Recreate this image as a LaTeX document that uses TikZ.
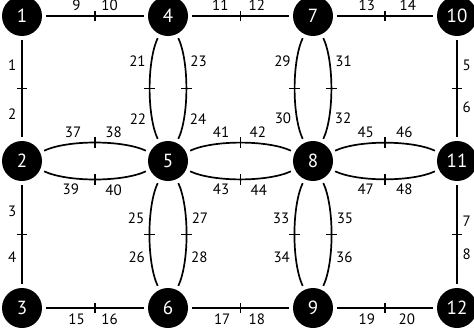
\documentclass[tikz,border=0pt]{standalone}
\usepackage{fontspec}
\setmainfont{PT Sans}
\usetikzlibrary{decorations.markings}

\begin{document}
\begin{tikzpicture}[x=0.5pt,y=0.5pt,
    vtx/.style={circle,fill=black,text=white,minimum size=20pt,inner sep=0pt,
                outer sep=2.2pt,font=\fontsize{9.5}{10}\selectfont},
    link/.style={line width=0.7pt,
                 decoration={markings,mark=at position 0.5 with
                   {\draw[line width=0.7pt] (0pt,-2.6pt) -- (0pt,2.6pt);}},
                 postaction={decorate}},
    lbl/.style={font=\fontsize{7.5}{8}\selectfont,inner sep=2.5pt},
    arcl/.style={link,line width=0.85pt,bend left=25,looseness=0.65},
    arcr/.style={link,line width=0.85pt,bend right=25,looseness=0.65}]
  \useasboundingbox (0,0) rectangle (474,333);
  % vertices
  \node[vtx] (n1)  at (22,317)  {1};
  \node[vtx] (n4)  at (168,317) {4};
  \node[vtx] (n7)  at (313,317) {7};
  \node[vtx] (n10) at (457,317) {10};
  \node[vtx] (n2)  at (22,172)  {2};
  \node[vtx] (n5)  at (168,172) {5};
  \node[vtx] (n8)  at (313,172) {8};
  \node[vtx] (n11) at (457,172) {11};
  \node[vtx] (n3)  at (22,25)   {3};
  \node[vtx] (n6)  at (168,25)  {6};
  \node[vtx] (n9)  at (313,25)  {9};
  \node[vtx] (n12) at (457,25)  {12};
  % outer straight edges
  \draw[link] (n1) -- node[lbl,above,pos=.31] (l9) {9} node[lbl,above,pos=.65] (l10) {10} (n4);
  \draw[link] (n4) -- node[lbl,above,pos=.29] (l11) {11} node[lbl,above,pos=.67] (l12) {12} (n7);
  \draw[link] (n7) -- node[lbl,above,pos=.31] (l13) {13} node[lbl,above,pos=.74] (l14) {14} (n10);
  \draw[link] (n3) -- node[lbl,below,pos=.31] (l15) {15} node[lbl,below,pos=.65] (l16) {16} (n6);
  \draw[link] (n6) -- node[lbl,below,pos=.31] (l17) {17} node[lbl,below,pos=.67] (l18) {18} (n9);
  \draw[link] (n9) -- node[lbl,below,pos=.31] (l19) {19} node[lbl,below,pos=.73] (l20) {20} (n12);
  \draw[link] (n1) -- node[lbl,left,pos=.26] (l1) {1} node[lbl,left,pos=.77] (l2) {2} (n2);
  \draw[link] (n2) -- node[lbl,left,pos=.26] (l3) {3} node[lbl,left,pos=.73] (l4) {4} (n3);
  \draw[link] (n10) -- node[lbl,right,pos=.26] (l5) {5} node[lbl,right,pos=.70] (l6) {6} (n11);
  \draw[link] (n11) -- node[lbl,right,pos=.36] (l7) {7} node[lbl,right,pos=.70] (l8) {8} (n12);
  % double vertical arcs
  \draw[arcr] (n4) to node[lbl,left,pos=.26] (l21) {21} node[lbl,left,pos=.77] (l22) {22} (n5);
  \draw[arcl] (n4) to node[lbl,right,pos=.26] (l23) {23} node[lbl,right,pos=.77] (l24) {24} (n5);
  \draw[arcr] (n5) to node[lbl,left,pos=.36] (l25) {25} node[lbl,left,pos=.70] (l26) {26} (n6);
  \draw[arcl] (n5) to node[lbl,right,pos=.36] (l27) {27} node[lbl,right,pos=.70] (l28) {28} (n6);
  \draw[arcr] (n7) to node[lbl,left,pos=.26] (l29) {29} node[lbl,left,pos=.77] (l30) {30} (n8);
  \draw[arcl] (n7) to node[lbl,right,pos=.26] (l31) {31} node[lbl,right,pos=.77] (l32) {32} (n8);
  \draw[arcr] (n8) to node[lbl,left,pos=.36] (l33) {33} node[lbl,left,pos=.70] (l34) {34} (n9);
  \draw[arcl] (n8) to node[lbl,right,pos=.36] (l35) {35} node[lbl,right,pos=.70] (l36) {36} (n9);
  % double horizontal arcs
  \draw[arcl] (n2) to node[lbl,above,pos=.31] (l37) {37} node[lbl,above,pos=.66] (l38) {38} (n5);
  \draw[arcr] (n2) to node[lbl,below,pos=.29] (l39) {39} node[lbl,below,pos=.66] (l40) {40} (n5);
  \draw[arcl] (n5) to node[lbl,above,pos=.33] (l41) {41} node[lbl,above,pos=.65] (l42) {42} (n8);
  \draw[arcr] (n5) to node[lbl,below,pos=.33] (l43) {43} node[lbl,below,pos=.66] (l44) {44} (n8);
  \draw[arcl] (n8) to node[lbl,above,pos=.33] (l45) {45} node[lbl,above,pos=.67] (l46) {46} (n11);
  \draw[arcr] (n8) to node[lbl,below,pos=.33] (l47) {47} node[lbl,below,pos=.67] (l48) {48} (n11);
\end{tikzpicture}
\end{document}
